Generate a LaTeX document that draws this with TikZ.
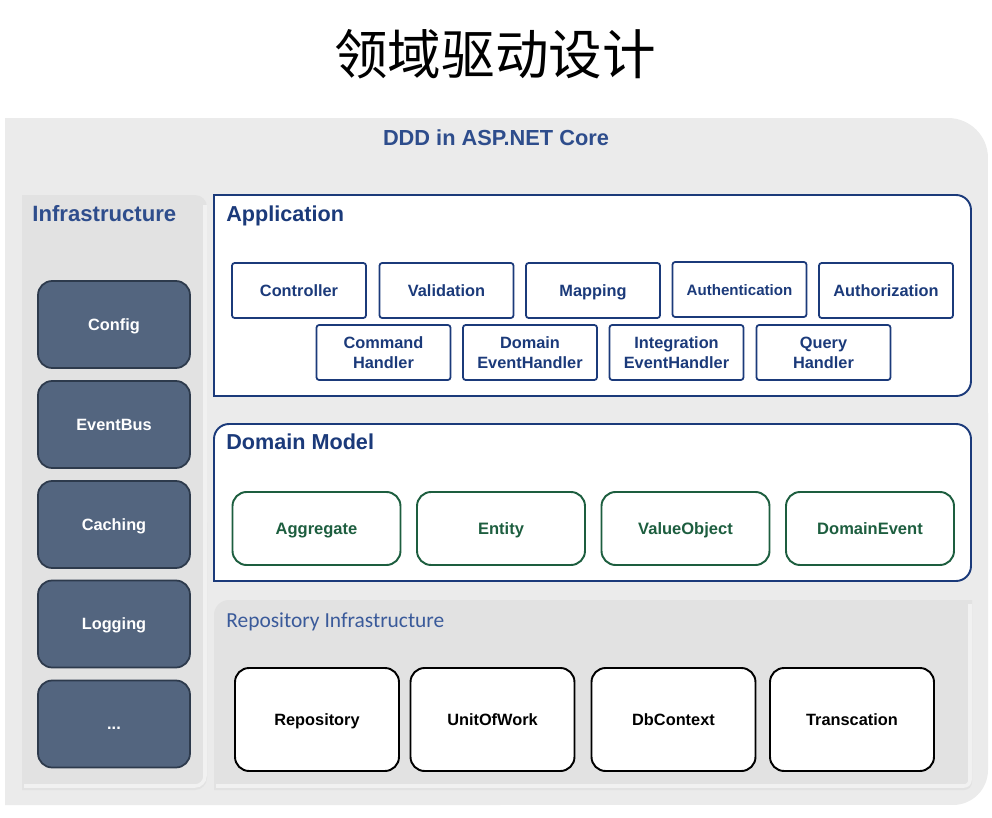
\documentclass[tikz,border=0pt]{standalone}
\usepackage{fontspec}
\setmainfont{Liberation Sans}
\newfontfamily\cjk{Noto Sans CJK SC}
\newfontfamily\calib{Carlito}
\usepackage{tikz}
\usetikzlibrary{calc,positioning}
\definecolor{OuterGray}{HTML}{EBEBEB}
\definecolor{PanelGray}{HTML}{E2E2E2}
\definecolor{EdgeGray}{HTML}{F1F1F1}
\definecolor{Navy}{HTML}{1B3A7A}
\definecolor{HeadBlue}{HTML}{2E4D8C}
\definecolor{RepoBlue}{HTML}{3A5A9A}
\definecolor{Slate}{HTML}{53657F}
\definecolor{SlateLine}{HTML}{2D3A4C}
\definecolor{DomainGreen}{HTML}{1D5E3F}
\tikzset{%
layerpanel/.style={draw=Navy, line width=1.1pt, fill=white},
graypanel/.style={fill=PanelGray},
heading/.style={anchor=base west, inner sep=0pt, text=Navy, font=\bfseries\fontsize{12.3}{14}\selectfont},
appbox/.style={draw=Navy, line width=1pt, fill=white, rounded corners=1.5pt,
  minimum width=2.68cm, minimum height=1.1cm, inner sep=0pt, align=center,
  text height=6.6pt, text depth=0pt,
  text=Navy, font=\bfseries\fontsize{9.3}{11.3}\selectfont},
handlerbox/.style={appbox, text height=17.9pt},
domainbox/.style={draw=DomainGreen, line width=1.1pt, fill=white, rounded corners=8pt,
  minimum width=3.36cm, minimum height=1.46cm, inner sep=0pt,
  text height=6.8pt, text depth=0pt,
  text=DomainGreen, font=\bfseries\fontsize{9.4}{11}\selectfont},
repobox/.style={draw=black, line width=1.1pt, fill=white, rounded corners=8pt,
  minimum width=3.28cm, minimum height=2.06cm, inner sep=0pt,
  text height=6.7pt, text depth=0pt,
  font=\bfseries\fontsize{9.3}{11}\selectfont},
infrabox/.style={draw=SlateLine, line width=1pt, fill=Slate, rounded corners=8pt,
  minimum width=3.04cm, minimum height=1.74cm, inner sep=0pt,
  text height=6.7pt, text depth=0pt,
  text=white, font=\bfseries\fontsize{9.3}{11}\selectfont}
}
\begin{document}
\begin{tikzpicture}[x=0.02cm, y=-0.02cm]
\useasboundingbox (0,0) rectangle (992,818);

\node (title) at (495,54) {\cjk\fontsize{30.5}{36}\selectfont 领域驱动设计};

% outer panel
\fill[OuterGray] (5,118) -- (948,118) arc[start angle=90, end angle=0, radius=0.8cm]
  -- (988,770) arc[start angle=0, end angle=-90, radius=0.7cm] -- (5,805) -- cycle;
\node[anchor=base, inner sep=0pt, text=HeadBlue, font=\bfseries\fontsize{12.4}{14}\selectfont] (ddd) at (496,145) {DDD in ASP.NET Core};

% infrastructure column
\fill[graypanel] (22,790) -- (22,195) -- (195,195) arc[start angle=90, end angle=0, radius=0.24cm]
  -- (207,778) arc[start angle=0, end angle=-90, radius=0.24cm] -- cycle;
\draw[EdgeGray, line width=2pt] (205,205) -- (205,776) arc[start angle=0, end angle=-90, radius=0.2cm] -- (24,786);
\node[heading, text=HeadBlue, font=\bfseries\fontsize{12.6}{14}\selectfont] (infra) at (32,221) {Infrastructure};

\node[infrabox] (config)   at (114,324.5) {Config};
\node[infrabox] (eventbus) at (114,424.5) {EventBus};
\node[infrabox] (caching)  at (114,524.5) {Caching};
\node[infrabox] (logging)  at (114,624) {Logging};
\node[infrabox] (more)     at (114,724) {...};

% application layer
\filldraw[layerpanel] (214,195) -- (956,195) arc[start angle=90, end angle=0, radius=0.3cm]
  -- (971,381) arc[start angle=0, end angle=-90, radius=0.3cm] -- (214,396) -- cycle;
\node[heading] (app) at (226,221) {Application};

\node[appbox] (controller) at (299,290.5) {Controller};
\node[appbox] (validation) at (446.5,290.5) {Validation};
\node[appbox] (mapping)    at (593,290.5) {Mapping};
\node[appbox, font=\bfseries\fontsize{8.6}{11}\selectfont] (authn) at (739.5,289.5) {Authentication};
\node[appbox] (authz)      at (886,290.5) {Authorization};

\node[handlerbox] (cmdhandler)   at (383.5,352.5) {Command\\Handler};
\node[handlerbox] (domhandler)   at (530,352.5) {Domain\\EventHandler};
\node[handlerbox] (inthandler)   at (676.5,352.5) {Integration\\EventHandler};
\node[handlerbox] (queryhandler) at (823.5,352.5) {Query\\Handler};

% domain model layer
\filldraw[layerpanel] (214,581) -- (214,439) arc[start angle=180, end angle=90, radius=0.3cm]
  -- (956,424) arc[start angle=90, end angle=0, radius=0.3cm]
  -- (971,566) arc[start angle=0, end angle=-90, radius=0.3cm] -- cycle;
\node[heading] (domain) at (226,449) {Domain Model};

\node[domainbox] (aggregate)   at (316.5,528.5) {Aggregate};
\node[domainbox] (entity)      at (501,528.5) {Entity};
\node[domainbox] (valueobject) at (685.5,528.5) {ValueObject};
\node[domainbox] (domainevent) at (870,528.5) {DomainEvent};

% repository infrastructure
\fill[graypanel] (214,790) -- (214,615) arc[start angle=180, end angle=90, radius=0.3cm]
  -- (972,600) -- (972,782) arc[start angle=0, end angle=-90, radius=0.16cm] -- cycle;
\draw[EdgeGray, line width=2pt] (970,604) -- (970,780) arc[start angle=0, end angle=-90, radius=0.12cm] -- (216,786);
\node[anchor=base west, inner sep=0pt, text=RepoBlue, font=\calib\fontsize{12.2}{14}\selectfont] (repoinfra) at (226,627) {Repository Infrastructure};

\node[repobox] (repository) at (317,719.5) {Repository};
\node[repobox] (unitofwork) at (492.5,719.5) {UnitOfWork};
\node[repobox] (dbcontext)  at (673.5,719.5) {DbContext};
\node[repobox] (transcation) at (852,719.5) {Transcation};

\end{tikzpicture}
\end{document}
